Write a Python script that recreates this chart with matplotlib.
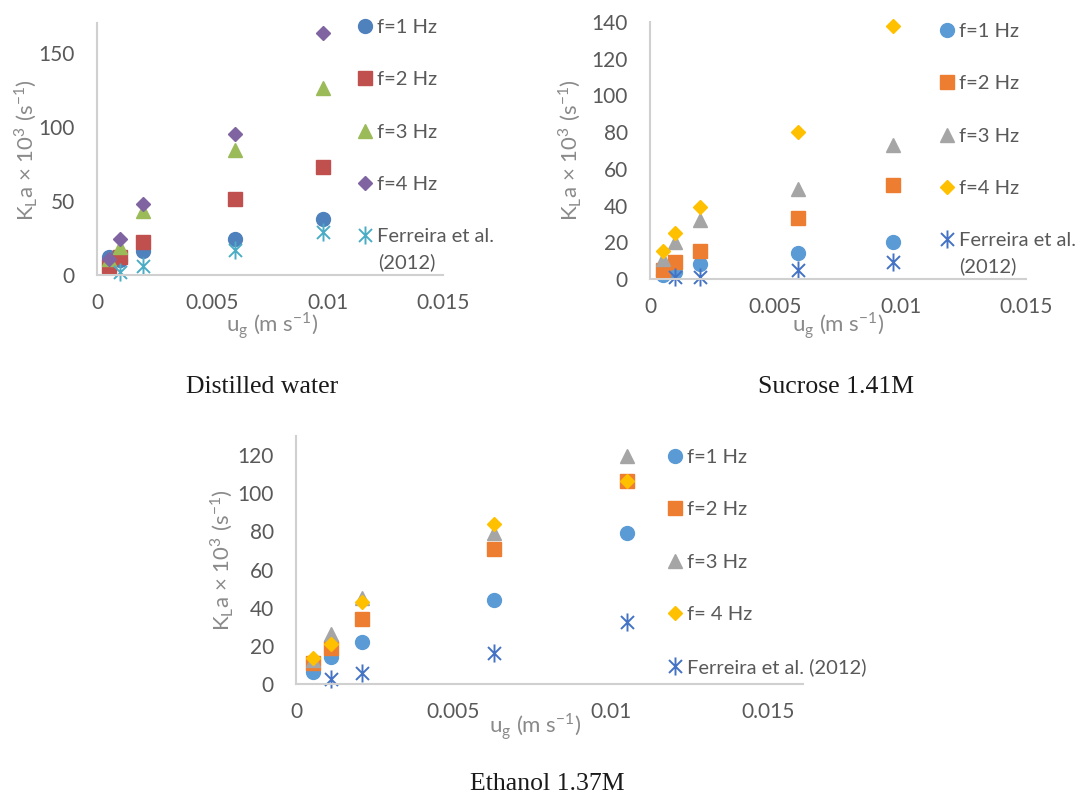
import matplotlib
matplotlib.use("Agg")
import matplotlib.pyplot as plt
from matplotlib.path import Path

# dados (u_g em m/s, KLa x 10^3 em 1/s)
ug_water = [0.0005, 0.001, 0.002, 0.006, 0.0098]
ug_ferreira_water = [0.001, 0.002, 0.006, 0.0098]
water_f1 = [12, 10, 16, 24, 38]
water_f2 = [6, 12, 22, 51, 73]
water_f3 = [11, 19, 43, 84, 126]
water_f4 = [11, 24, 48, 95, 163]
water_ferreira = [2, 6, 17, 29]

ug_sucrose = [0.0005, 0.001, 0.002, 0.0059, 0.0097]
ug_ferreira_sucrose = [0.001, 0.002, 0.0059, 0.0097]
sucrose_f1 = [2, 4, 8, 14, 20]
sucrose_f2 = [5, 9, 15, 33, 51]
sucrose_f3 = [11, 20, 32, 49, 73]
sucrose_f4 = [15, 25, 39, 80, 138]
sucrose_ferreira = [1, 1, 5, 9]

ug_ethanol = [0.00055, 0.0011, 0.0021, 0.0063, 0.0105]
ug_ferreira_ethanol = [0.0011, 0.0021, 0.0063, 0.0105]
ethanol_f1 = [6.5, 14, 22, 44, 79]
ethanol_f2 = [11, 19, 34, 71, 106.5]
ethanol_f3 = [12.5, 26, 45, 79, 119.5]
ethanol_f4 = [13.5, 21, 43, 84, 106.5]
ethanol_ferreira = [2.5, 6, 16.5, 32.7]

W, H = 1091, 796
fig = plt.figure(figsize=(W / 100, H / 100), dpi=100)
plt.rcParams['font.family'] = ['Lato', 'DejaVu Sans']

GRAY = '#595959'
LGRAY = '#8a8a8a'
AXC = '#d0d0d0'

# marcador "estrela" do Excel (X + linha vertical)
star = Path([(0, -1), (0, 1), (-0.72, -0.72), (0.72, 0.72), (-0.72, 0.72), (0.72, -0.72)],
            [Path.MOVETO, Path.LINETO, Path.MOVETO, Path.LINETO, Path.MOVETO, Path.LINETO])


def fx(x):
    return x / W


def fy(y):
    return 1 - y / H


def painel(left, right, top, bottom, xmax, ymax, yticks):
    ax = fig.add_axes([fx(left), fy(bottom), fx(right - left), (bottom - top) / H])
    ax.set_xlim(0, xmax)
    ax.set_ylim(0, ymax)
    ax.set_xticks([0, 0.005, 0.01, 0.015])
    ax.set_xticklabels(['0', '0.005', '0.01', '0.015'])
    ax.set_yticks(yticks)
    for s in ['top', 'right']:
        ax.spines[s].set_visible(False)
    for s in ['left', 'bottom']:
        ax.spines[s].set_color(AXC)
        ax.spines[s].set_linewidth(1.5)
    ax.tick_params(length=0, labelsize=15, labelcolor=GRAY)
    ax.tick_params(axis='x', pad=13)
    ax.tick_params(axis='y', pad=16)
    ax.patch.set_alpha(0)
    return ax


def series(ax, x, xf, ys, yf, cores, labels):
    mk = ['o', 's', '^', 'D']
    ms = [10, 9.5, 10, 7.5]
    handles = []
    for y, c, m, s, lb in zip(ys, cores, mk, ms, labels):
        h, = ax.plot(x, y, ls='none', marker=m, ms=s, color=c, mec=c, label=lb, clip_on=False)
        handles.append(h)
    h, = ax.plot(xf, yf, ls='none', marker=star, ms=13, mfc='none', mec=cores[4], mew=1.4,
                 label=labels[4], clip_on=False)
    handles.append(h)
    return handles


def legenda(handles, x, y):
    fig.legend(handles=handles, loc='upper left', bbox_to_anchor=(fx(x), fy(y)),
               frameon=False, fontsize=14.5, labelcolor=GRAY, handlelength=0.8,
               handletextpad=0.2, labelspacing=1.75, borderaxespad=0, borderpad=0)


def rotulos(xl, ylx, yly):
    fig.text(fx(xl[0]), fy(xl[1]), r'u$_\mathregular{g}$ (m s$^\mathregular{-1}$)',
             ha='center', va='center', fontsize=16, color=LGRAY)
    fig.text(fx(ylx), fy(yly), r'K$_\mathregular{L}$a × 10$^\mathregular{3}$ (s$^\mathregular{-1}$)',
             ha='center', va='center', rotation=90, fontsize=16, color=LGRAY)


labels_top = ['f=1 Hz', 'f=2 Hz', 'f=3 Hz', 'f=4 Hz', 'Ferreira et al.']

# Painel 1 - água destilada
ax1 = painel(97, 443, 23, 275, 0.015, 170, [0, 50, 100, 150])
c1 = ['#4F81BD', '#C0504D', '#9BBB59', '#8064A2', '#4BACC6']
h1 = series(ax1, ug_water, ug_ferreira_water, [water_f1, water_f2, water_f3, water_f4],
            water_ferreira, c1, labels_top)
legenda(h1, 357, 19)
fig.text(fx(378), fy(262), '(2012)', ha='left', va='center', fontsize=14.5, color=GRAY)
rotulos((272, 326), 26, 150)
fig.text(fx(262), fy(387), 'Distilled water', ha='center', va='center',
         fontsize=18.5, family='Liberation Serif', color='#1a1a1a')

# Painel 2 - sacarose
ax2 = painel(650, 1026, 22, 279, 0.015, 140, list(range(0, 141, 20)))
c2 = ['#5B9BD5', '#ED7D31', '#A5A5A5', '#FFC000', '#4472C4']
h2 = series(ax2, ug_sucrose, ug_ferreira_sucrose, [sucrose_f1, sucrose_f2, sucrose_f3, sucrose_f4],
            sucrose_ferreira, c2, labels_top)
legenda(h2, 939, 23)
fig.text(fx(959), fy(266), '(2012)', ha='left', va='center', fontsize=14.5, color=GRAY)
rotulos((838, 326), 570, 150)
fig.text(fx(836), fy(387), 'Sucrose 1.41M', ha='center', va='center',
         fontsize=18.5, family='Liberation Serif', color='#1a1a1a')

# Painel 3 - etanol
ax3 = painel(296, 803, 436, 684, 0.0161, 130, list(range(0, 121, 20)))
h3 = series(ax3, ug_ethanol, ug_ferreira_ethanol, [ethanol_f1, ethanol_f2, ethanol_f3, ethanol_f4],
            ethanol_ferreira, c2, ['f=1 Hz', 'f=2 Hz', 'f=3 Hz', 'f= 4 Hz', 'Ferreira et al. (2012)'])
legenda(h3, 667, 449)
rotulos((535, 727), 222, 560)
fig.text(fx(547), fy(784), 'Ethanol 1.37M', ha='center', va='center',
         fontsize=18.5, family='Liberation Serif', color='#1a1a1a')

fig.savefig('out.png', dpi=100)
